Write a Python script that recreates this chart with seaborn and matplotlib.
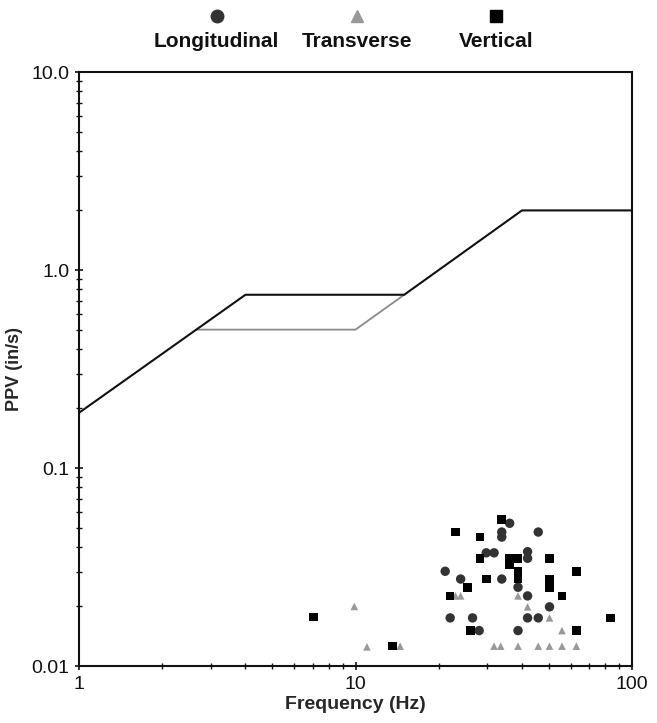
import numpy as np
import pandas as pd
import matplotlib
matplotlib.use("Agg")
import matplotlib.pyplot as plt
import seaborn as sns
from matplotlib.lines import Line2D
from matplotlib.ticker import LogLocator, NullFormatter, FixedLocator, FixedFormatter

# Measured peak particle velocities (in/s) vs dominant frequency (Hz)
long_freq = [36.1, 45.8, 33.8, 33.8, 29.7, 31.7, 41.9, 41.9, 21.1, 24.0,
             33.8, 38.7, 41.9, 50.3, 22.0, 26.5, 41.9, 45.8, 28.0, 38.7]
long_ppv = [0.0526, 0.0475, 0.0475, 0.0448, 0.0373, 0.0373, 0.0378, 0.035, 0.0301, 0.0275,
            0.0275, 0.025, 0.0226, 0.0199, 0.0175, 0.0175, 0.0175, 0.0175, 0.0151, 0.0151]

trans_freq = [9.9, 11.0, 14.5, 23.0, 24.0, 38.7, 41.9, 50.3, 55.8, 31.7,
              33.5, 38.7, 45.8, 50.3, 55.8, 62.9]
trans_ppv = [0.020, 0.0125, 0.0126, 0.0226, 0.0226, 0.0226, 0.0199, 0.0175, 0.0151, 0.0126,
             0.0126, 0.0126, 0.0126, 0.0126, 0.0126, 0.0126]

vert_freq = [33.8, 23.0, 28.2, 28.2, 36.1, 36.1, 38.7, 50.3, 38.7, 62.9,
             29.7, 38.7, 50.3, 25.4, 50.3, 22.0, 55.8, 83.4, 26.1, 62.9,
             13.6, 7.06]
vert_ppv = [0.0551, 0.0475, 0.0448, 0.035, 0.035, 0.0326, 0.035, 0.035, 0.0301, 0.0301,
            0.0275, 0.0275, 0.0275, 0.025, 0.025, 0.0226, 0.0226, 0.0175, 0.0151, 0.0151,
            0.0126, 0.0177]

# Damage criteria curves
drywall_freq = [1, 4, 15, 40, 100]
drywall_ppv = [0.19, 0.75, 0.75, 2.0, 2.0]
plaster_freq = [2.66, 10, 15]
plaster_ppv = [0.5, 0.5, 0.75]

components = ["Longitudinal", "Transverse", "Vertical"]
colors = {"Longitudinal": "#333333", "Transverse": "#999999", "Vertical": "#000000"}
markers = {"Longitudinal": "o", "Transverse": "^", "Vertical": "s"}

df = pd.concat([
    pd.DataFrame({"freq": long_freq, "ppv": long_ppv, "comp": "Longitudinal"}),
    pd.DataFrame({"freq": trans_freq, "ppv": trans_ppv, "comp": "Transverse"}),
    pd.DataFrame({"freq": vert_freq, "ppv": vert_ppv, "comp": "Vertical"}),
])

sns.set_style("white")
plt.rcParams['font.family'] = ['Liberation Sans', 'DejaVu Sans']

fig = plt.figure(figsize=(6.57, 7.23), dpi=100)
ax = fig.add_axes([0.1202, 0.0788, 0.8418, 0.8216])

sns.lineplot(x=plaster_freq, y=plaster_ppv, sort=False, estimator=None,
             color="#8a8a8a", linewidth=1.3, ax=ax)
sns.lineplot(x=drywall_freq, y=drywall_ppv, sort=False, estimator=None,
             color="#111111", linewidth=1.5, ax=ax)

sizes = {"Longitudinal": 46, "Transverse": 30, "Vertical": 38}
for c in components:
    sub = df[df["comp"] == c]
    sns.scatterplot(data=sub, x="freq", y="ppv", marker=markers[c], color=colors[c],
                    s=sizes[c], edgecolor="none", ax=ax, legend=False, zorder=3)

ax.set_xscale("log")
ax.set_yscale("log")
ax.set_xlim(1, 100)
ax.set_ylim(0.01, 10)

ax.xaxis.set_major_locator(FixedLocator([1, 10, 100]))
ax.xaxis.set_major_formatter(FixedFormatter(["1", "10", "100"]))
ax.yaxis.set_major_locator(FixedLocator([0.01, 0.1, 1, 10]))
ax.yaxis.set_major_formatter(FixedFormatter(["0.01", "0.1", "1.0", "10.0"]))
ax.xaxis.set_minor_locator(LogLocator(base=10, subs=np.arange(2, 10)))
ax.yaxis.set_minor_locator(LogLocator(base=10, subs=np.arange(2, 10)))
ax.xaxis.set_minor_formatter(NullFormatter())
ax.yaxis.set_minor_formatter(NullFormatter())

ax.tick_params(axis="both", which="both", bottom=True, left=True, top=False, right=False)
ax.tick_params(axis="both", which="major", direction="inout", length=6, width=1.2,
               labelsize=14, colors="#111111", pad=4)
ax.tick_params(axis="both", which="minor", direction="inout", length=4, width=1.0,
               colors="#111111")

for sp in ax.spines.values():
    sp.set_visible(True)
    sp.set_color("#111111")
    sp.set_linewidth(1.5)

ax.set_xlabel("Frequency (Hz)", fontsize=14, fontweight="bold", labelpad=2)
ax.set_ylabel("PPV (in/s)", fontsize=13, fontweight="bold", labelpad=6)

# Legend: markers above labels
leg_x = [0.330, 0.543, 0.755]
for c, lx in zip(components, leg_x):
    fig.add_artist(Line2D([lx], [0.978], marker=markers[c], color=colors[c],
                          markersize=9 if c != "Transverse" else 8, linestyle="none",
                          transform=fig.transFigure))
    fig.text(lx, 0.942, c, ha="center", va="center", fontsize=15, fontweight="bold",
             color="#111111")

fig.savefig("out.png", dpi=100)
